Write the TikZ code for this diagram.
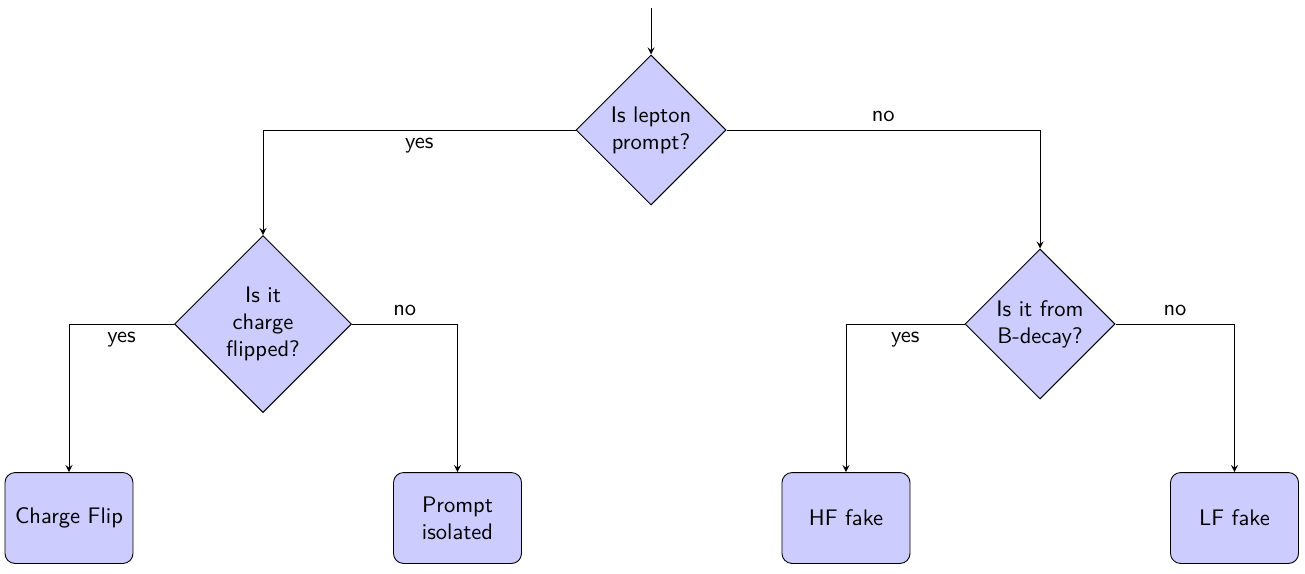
\documentclass[tikz,border=0pt]{standalone}
\usepackage{tikz}
\usetikzlibrary{shapes.geometric}
\tikzset{>=stealth}
\tikzset{
  every node/.style={font=\sffamily},
  decision/.style={diamond, draw, fill=blue!20, aspect=1, inner sep=0pt, minimum size=66.7pt, align=center},
  outcome/.style={rectangle, draw, fill=blue!20, rounded corners=4.5pt, minimum width=56.9pt, minimum height=40.4pt, align=center}
}

\begin{document}
\begin{tikzpicture}[x=0.4444pt,y=-0.4444pt]
\useasboundingbox (0,0) rectangle (1305,573);
\node[decision] (prompt) at (651,130) {Is lepton\\prompt?};
\node[decision,minimum size=78.7pt] (flip) at (263,324) {Is it\\charge\\flipped?};
\node[decision] (bdecay) at (1040,324) {Is it from\\B-decay?};
\node[outcome] (cf) at (69,518) {Charge Flip};
\node[outcome] (iso) at (457.5,518) {Prompt\\isolated};
\node[outcome] (hf) at (846,518) {HF fake};
\node[outcome] (lf) at (1234.5,518) {LF fake};
\coordinate (in) at (651,8);
\draw[->] (in) -- (prompt);
\draw[->] (prompt.west) -| node[pos=.25,below] {yes} (flip.north);
\draw[->] (prompt.east) -| node[pos=.25,above] {no} (bdecay.north);
\draw[->] (flip.west) -| node[pos=.25,below] {yes} (cf.north);
\draw[->] (flip.east) -| node[pos=.25,above] {no} (iso.north);
\draw[->] (bdecay.west) -| node[pos=.25,below] {yes} (hf.north);
\draw[->] (bdecay.east) -| node[pos=.25,above] {no} (lf.north);
\end{tikzpicture}
\end{document}
